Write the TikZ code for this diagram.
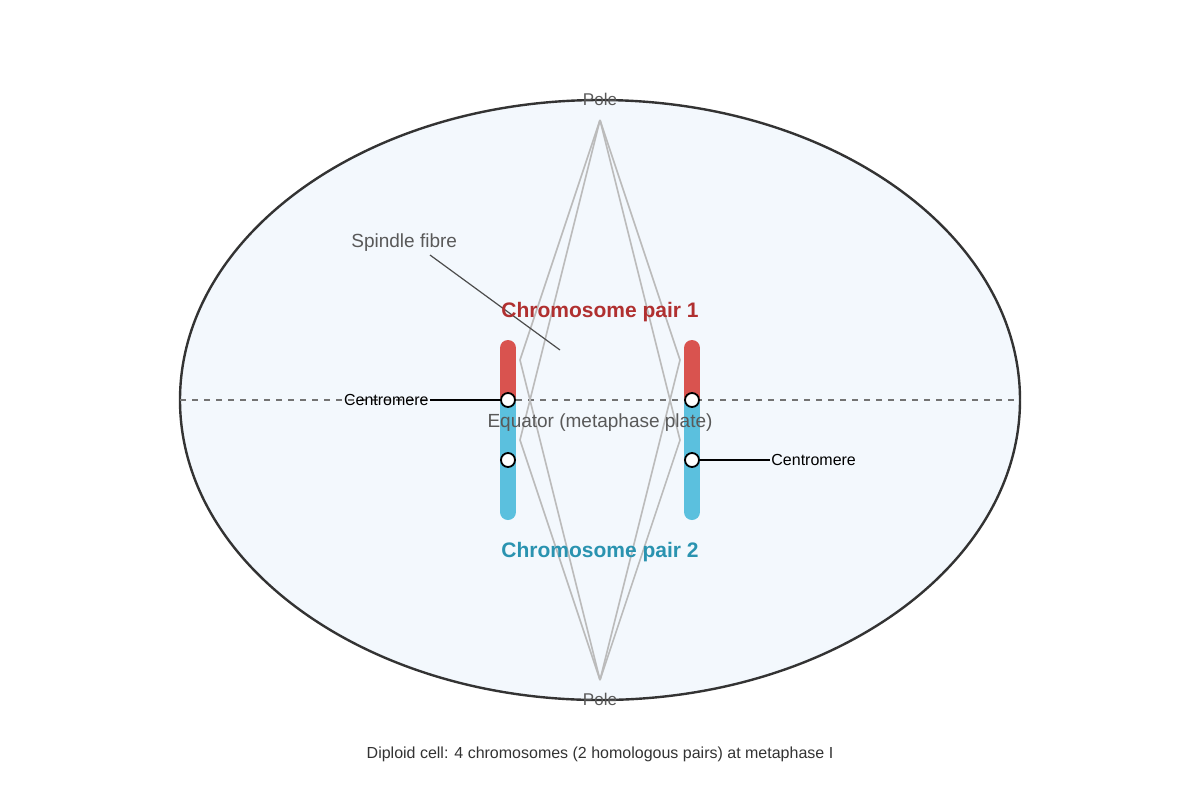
\documentclass[tikz,border=0pt]{standalone}
\usepackage{fontspec}
\setmainfont{Liberation Sans}
\definecolor{cellfill}{HTML}{F3F8FD}
\definecolor{armred}{HTML}{D9534F}
\definecolor{armblue}{HTML}{5BC0DE}
\definecolor{pairred}{HTML}{B03030}
\definecolor{pairblue}{HTML}{2A93B0}
\definecolor{fibre}{HTML}{BBBBBB}
\tikzset{
  arm/.style={line width=8pt, line cap=round},
  cen/.style={circle, draw=black, fill=white, line width=0.9pt, minimum size=7pt, inner sep=0pt},
  lbl/.style={inner sep=0.5pt, font=\fontsize{8}{9.6}\selectfont},
  grey/.style={text=black!65},
}
\begin{document}
\begin{tikzpicture}[x=0.5pt,y=0.5pt,yscale=-1,xscale=1]
    \useasboundingbox (0,0) rectangle (1200,800);
    %Cell
    \draw [fill=cellfill, draw=black!80, line width=1.2pt] (600,400) ellipse [x radius=420, y radius=300];
    %Equator
    \draw [dashed, draw=black!55, line width=0.6pt] (180,400) -- (1020,400);
    %Poles
    \coordinate (ptop) at (600,120);
    \coordinate (pbot) at (600,680);
    %Spindle fibres
    \foreach \xx in {520,680} {
      \draw [fibre, line width=0.8pt] (ptop) -- (\xx,360) -- (pbot);
      \draw [fibre, line width=0.8pt] (pbot) -- (\xx,440) -- (ptop);
    }
    %Chromosomes
    \foreach \xx in {508,692} {
      \draw [arm, armblue] (\xx,404) -- (\xx,512);
      \draw [arm, armred] (\xx,348) -- (\xx,396);
    }
    \node [cen] (c1) at (508,400) {};
    \node [cen] (c2) at (508,460) {};
    \node [cen] (c3) at (692,400) {};
    \node [cen] (c4) at (692,460) {};
    % Text Nodes
    \node [lbl, grey] (pole1) at (600,99) {\fontsize{8.5}{10}\selectfont Pole};
    \node [lbl, grey] (pole2) at (600,699) {\fontsize{8.5}{10}\selectfont Pole};
    \node [lbl, grey] (eq) at (600,423) {\fontsize{9.5}{11}\selectfont Equator (metaphase plate)};
    \node [lbl, grey, anchor=north west] (sf) at (350,232) {\fontsize{9.5}{11}\selectfont Spindle fibre};
    \coordinate (sftip) at (560,350);
    \draw [black!70, line width=0.6pt] (430,255) -- (sftip);
    \node [lbl, text=pairred] (pr1) at (600,312) {\fontsize{10.5}{12}\selectfont\bfseries Chromosome pair 1};
    \node [lbl, text=pairblue] (pr2) at (600,552) {\fontsize{10.5}{12}\selectfont\bfseries Chromosome pair 2};
    \node [lbl, anchor=east] (cl) at (430,400) {Centromere};
    \node [lbl, anchor=west] (cr) at (770,460) {Centromere};
    \draw [line width=0.6pt] (cl.east) -- (c1);
    \draw [line width=0.6pt] (c4) -- (cr.west);
    \node [lbl, text=black!80] (cap) at (600,754) {Diploid cell: 4 chromosomes (2 homologous pairs) at metaphase I};
\end{tikzpicture}
\end{document}
